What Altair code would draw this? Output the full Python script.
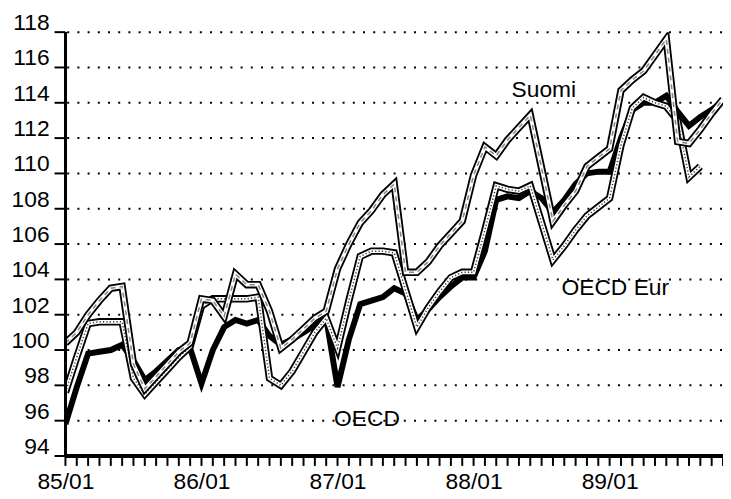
import altair as alt
import pandas as pd

# Month index 0 = 85/01
oecd = [95.8, 97.9, 99.8, 99.9, 100.0, 100.3, 99.4, 98.3, 98.8, 99.4, 100.0, 100.1,
        98.1, 100.0, 101.3, 101.7, 101.5, 101.7, 100.8, 100.3, 100.6, 101.0, 101.4, 101.8,
        97.9, 100.6, 102.6, 102.8, 103.0, 103.5, 103.2, 101.7, 102.3, 103.0, 103.6, 104.1,
        104.1, 105.6, 108.5, 108.7, 108.6, 109.0, 108.6, 107.8, 108.5, 109.4, 110.0, 110.1,
        110.1, 112.0, 113.6, 114.0, 114.0, 114.4, 113.5, 112.7, 113.2, 113.6, 114.1]
suomi = [100.4, 101.0, 102.0, 102.8, 103.5, 103.6, 99.2, 97.8, 98.5, 99.2, 99.9, 100.4,
         102.9, 102.8, 101.9, 104.3, 103.7, 103.7, 102.2, 100.1, 100.6, 101.2, 101.8, 102.2,
         104.6, 106.0, 107.2, 107.9, 108.8, 109.4, 104.4, 104.4, 105.0, 105.9, 106.6, 107.3,
         109.9, 111.5, 111.0, 111.9, 112.6, 113.3, 110.3, 107.3, 108.2, 109.0, 110.4, 110.9,
         111.4, 114.7, 115.3, 115.8, 116.7, 117.6, 111.8, 111.7, 112.5, 113.4, 114.2]
oecd_eur = [97.6, 99.6, 101.5, 101.6, 101.6, 101.6, 98.4, 97.5, 98.2, 98.9, 99.6, 100.2,
            102.5, 102.9, 102.9, 102.9, 102.9, 103.0, 98.4, 98.0, 98.8, 99.9, 101.0, 101.8,
            100.1, 102.8, 105.3, 105.6, 105.6, 105.5, 103.4, 101.3, 102.4, 103.3, 104.1, 104.4,
            104.4, 106.8, 109.3, 109.1, 109.0, 109.3, 107.2, 105.1, 105.9, 106.8, 107.6, 108.1,
            108.6, 111.6, 113.7, 114.3, 114.0, 113.8, 113.0, 109.8, 110.4]
year_labels = ["85/01", "86/01", "87/01", "88/01", "89/01"]
y_ticks = list(range(94, 119, 2))
x_ticks = list(range(59))

ann_text = ["Suomi", "OECD Eur", "OECD"]
ann_m = [42.2, 48.5, 26.6]
ann_v = [114.7, 103.5, 96.1]

FONT = "Liberation Sans"
W, H = 664, 428

df_oecd = pd.DataFrame({"m": range(len(oecd)), "v": oecd})
df_suomi = pd.DataFrame({"m": range(len(suomi)), "v": suomi})
df_eur = pd.DataFrame({"m": range(len(oecd_eur)), "v": oecd_eur})
df_ann = pd.DataFrame({"m": ann_m, "v": ann_v, "t": ann_text})
df_grid = pd.DataFrame({"v": y_ticks[1:]})
df_yt = pd.DataFrame({"v": y_ticks, "t": [str(v) for v in y_ticks]})
df_xt = pd.DataFrame({"m": x_ticks})

lab_arr = "[" + ",".join("'%s'" % s for s in year_labels) + "]"
x_axis = alt.Axis(values=x_ticks, title=None,
                  labelExpr="datum.value % 12 == 0 ? " + lab_arr + "[datum.value / 12] : ''",
                  labelOverlap=False, labelFlush=False, grid=False,
                  ticks=False, domain=False,
                  labelFont=FONT, labelFontSize=23, labelColor="black", labelPadding=15)
y_axis = alt.Axis(values=y_ticks, title=None, grid=False,
                  ticks=False, domain=False, labelExpr="''",
                  labelFont=FONT, labelFontSize=23, labelColor="black", labelPadding=16)

xs = alt.Scale(domain=[0, 58], nice=False, zero=False)
ys = alt.Scale(domain=[94, 118], nice=False, zero=False)
X = alt.X("m:Q", scale=xs, axis=x_axis)
Y = alt.Y("v:Q", scale=ys, axis=y_axis)


def line(df, color, width, dash=None):
    kw = dict(color=color, strokeWidth=width, strokeJoin="miter", clip=True)
    if dash:
        kw["strokeDash"] = dash
    return alt.Chart(df).mark_line(**kw).encode(x=X, y=Y)


grid = alt.Chart(df_grid).mark_rule(color="black", strokeWidth=2, strokeDash=[2, 8.3],
                                    strokeDashOffset=-1).encode(y=Y)
y_tick_marks = alt.Chart(df_yt).mark_rule(color="black", strokeWidth=2).encode(
    y=Y, x=alt.value(-11), x2=alt.value(0))
x_tick_marks = alt.Chart(df_xt).mark_rule(color="black", strokeWidth=2).encode(
    x=X, y=alt.value(H), y2=alt.value(H + 10))
y_domain = alt.Chart(df_yt).mark_rule(color="black", strokeWidth=2.5).encode(
    x=alt.datum(0, scale=xs), y=alt.datum(94, scale=ys), y2=alt.datum(118))
x_domain = alt.Chart(df_xt).mark_rule(color="black", strokeWidth=2.5).encode(
    y=alt.datum(94, scale=ys), x=alt.datum(0, scale=xs), x2=alt.datum(58))
y_labels = alt.Chart(df_yt).mark_text(font=FONT, fontSize=23, color="black", align="right",
                                      baseline="alphabetic", dy=-2).encode(
    y=Y, x=alt.value(-16), text="t:N")

layers = [
    grid,
    line(df_oecd, "black", 6),
    line(df_eur, "black", 7.5),
    line(df_eur, "white", 3.8),
    line(df_eur, "#333333", 1.5, [1.2, 2.2]),
    line(df_suomi, "black", 7.5),
    line(df_suomi, "white", 3.8),
    line(df_suomi, "#888888", 1.6, [5, 4]),
    y_tick_marks,
    x_tick_marks,
    y_domain,
    x_domain,
    y_labels,
    alt.Chart(df_ann).mark_text(font=FONT, fontSize=23, color="black",
                                align="center", baseline="middle").encode(x=X, y=Y, text="t:N"),
]

chart = alt.layer(*layers).properties(
    width=W, height=H,
    padding={"left": 58, "top": 22, "right": 0, "bottom": 37},
    autosize=alt.AutoSizeParams(type="none"),
).configure(background="white").configure_view(stroke=None)

chart.save("out.html", embed_options={"renderer": "svg", "actions": False})
